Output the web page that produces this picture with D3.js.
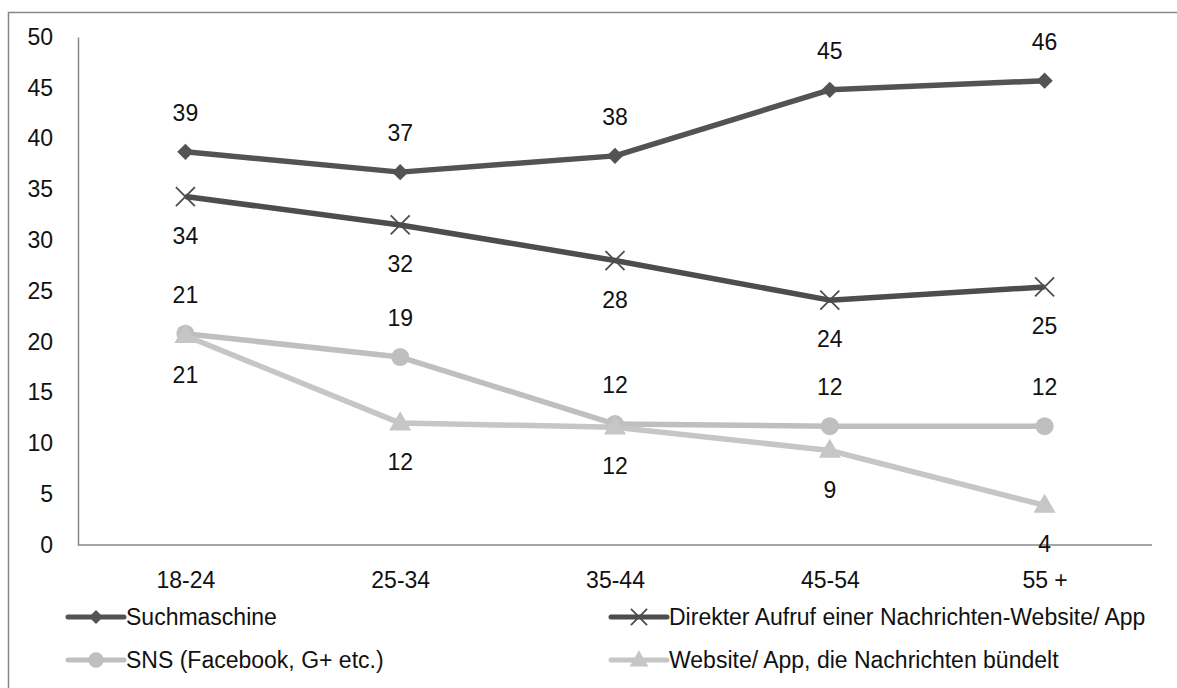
<!DOCTYPE html>
<html><head><meta charset="utf-8">
<script src="https://cdn.jsdelivr.net/npm/d3@7"></script>
<style>html,body{margin:0;padding:0;background:#fff;overflow:hidden}</style>
</head><body>
<script>
const categories = ["18-24","25-34","35-44","45-54","55 +"];
const suchmaschine = [38.7, 36.7, 38.3, 44.8, 45.7];
const direkter = [34.3, 31.5, 28.0, 24.1, 25.4];
const sns = [20.8, 18.5, 11.9, 11.7, 11.7];
const website = [20.6, 12.0, 11.6, 9.3, 3.9];
const seriesNames = ["Suchmaschine","Direkter Aufruf einer Nachrichten-Website/ App","SNS (Facebook, G+ etc.)","Website/ App, die Nachrichten bündelt"];
const yTicks = [0,5,10,15,20,25,30,35,40,45,50];

const W = 1177, H = 688;
const FONT = "'Liberation Sans',Arial,sans-serif";
const FS = 23;
const svg = d3.select("body").append("svg").attr("width",W).attr("height",H)
  .style("font-family",FONT);

svg.append("rect").attr("x",8.5).attr("y",12.5).attr("width",1200).attr("height",700)
  .attr("fill","none").attr("stroke","#878787").attr("stroke-width",1.5);

const x = d3.scalePoint().domain(categories).range([78,1152]).padding(0.5);
const y = d3.scaleLinear().domain([0,50]).range([545,37]);

const yAxis = svg.append("g").attr("transform","translate(78,0)")
  .call(d3.axisLeft(y).tickValues(yTicks).tickSize(0).tickPadding(25).tickFormat(d3.format("d")));
yAxis.select(".domain").attr("stroke","#878787").attr("stroke-width",1.5);
yAxis.selectAll("text").attr("font-size",FS).attr("font-family",FONT).attr("fill","#111");

const xAxis = svg.append("g").attr("transform","translate(0,545)")
  .call(d3.axisBottom(x).tickSize(0).tickPadding(27));
xAxis.select(".domain").attr("stroke","#878787").attr("stroke-width",1.5).attr("d","M78,0H1152");
xAxis.selectAll("text").attr("font-size",FS).attr("font-family",FONT).attr("fill","#111");

const series = [
  {name:seriesNames[0], values:suchmaschine, color:"#535353", marker:"diamond", labelPos:-1},
  {name:seriesNames[1], values:direkter, color:"#4d4d4d", marker:"x", labelPos:1},
  {name:seriesNames[2], values:sns, color:"#bfbfbf", marker:"circle", labelPos:-1},
  {name:seriesNames[3], values:website, color:"#c6c6c6", marker:"triangle", labelPos:1}
];

function drawMarker(g, type, color, cx, cy, scale){
  scale = scale||1;
  if(type==="diamond"){
    g.append("path").attr("d",d3.symbol(d3.symbolDiamond2, 170*scale*scale)())
      .attr("transform",`translate(${cx},${cy})`).attr("fill",color);
  } else if(type==="circle"){
    g.append("circle").attr("cx",cx).attr("cy",cy).attr("r",9*scale).attr("fill",color);
  } else if(type==="triangle"){
    g.append("path").attr("d",d3.symbol(d3.symbolTriangle, 210*scale*scale)())
      .attr("transform",`translate(${cx},${cy+1})`).attr("fill",color);
  } else if(type==="x"){
    const s=9.5*scale;
    g.append("path").attr("d",`M${cx-s},${cy-s}L${cx+s},${cy+s}M${cx-s},${cy+s}L${cx+s},${cy-s}`)
      .attr("stroke",color).attr("stroke-width",1.8).attr("fill","none");
  }
}

const line = d3.line().x((d,i)=>x(categories[i])).y(d=>y(d));
const plot = svg.append("g");
[2,3,1,0].forEach(k=>{
  const s = series[k];
  plot.append("path").datum(s.values).attr("d",line).attr("fill","none")
    .attr("stroke",s.color).attr("stroke-width",5.5).attr("stroke-linejoin","round");
  s.values.forEach((v,i)=>drawMarker(plot,s.marker,s.color,x(categories[i]),y(v)));
});
series.forEach(s=>{
  plot.selectAll(null).data(s.values).enter().append("text")
    .attr("x",(d,i)=>x(categories[i])).attr("y",d=>y(d)+s.labelPos*39)
    .attr("dy","0.35em").attr("text-anchor","middle").attr("font-size",FS).attr("fill","#111")
    .text(d=>d3.format(".0f")(d));
});

const legendPos = [[68,617],[611,617],[68,660],[611,660]];
series.forEach((s,k)=>{
  const [lx,ly] = legendPos[k];
  const g = svg.append("g");
  g.append("line").attr("x1",lx).attr("x2",lx+56).attr("y1",ly).attr("y2",ly)
    .attr("stroke",s.color).attr("stroke-width",5).attr("stroke-linecap","round");
  drawMarker(g,s.marker,s.color,lx+28,ly,0.85);
  g.append("text").attr("x",lx+58).attr("y",ly).attr("dy","0.35em")
    .attr("font-size",FS).attr("fill","#111").text(s.name);
});
</script>
</body></html>
